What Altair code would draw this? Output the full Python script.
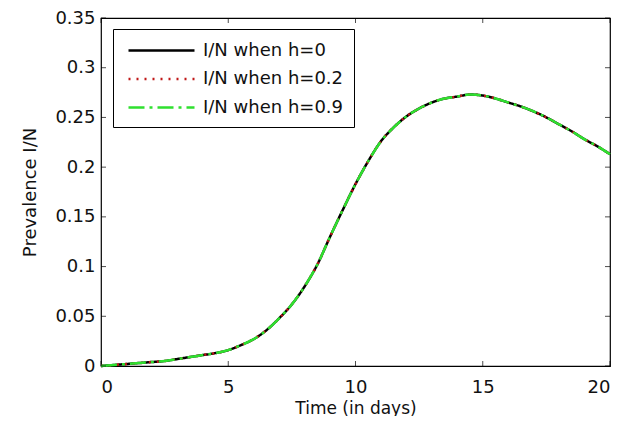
import altair as alt
import pandas as pd

# Time (days)
T = [0, 0.5, 1, 1.5, 2, 2.5, 3, 3.5, 4, 4.5, 5, 5.5, 6, 6.5, 7, 7.5, 8, 8.5, 9, 9.5,
     10, 10.5, 11, 11.5, 12, 12.5, 13, 13.5, 14, 14.5, 15, 15.5, 16, 16.5, 17, 17.5,
     18, 18.5, 19, 19.5, 20]

# Prevalence I/N (the three curves overlap in the picture)
I_H0 = [0.000, 0.001, 0.002, 0.003, 0.004, 0.005, 0.007, 0.009, 0.011, 0.013, 0.016,
        0.021, 0.027, 0.036, 0.048, 0.062, 0.080, 0.102, 0.130, 0.157, 0.183, 0.206,
        0.226, 0.240, 0.251, 0.259, 0.265, 0.269, 0.271, 0.273, 0.272, 0.269, 0.265,
        0.261, 0.256, 0.250, 0.243, 0.236, 0.228, 0.221, 0.213]
I_H02 = list(I_H0)
I_H09 = list(I_H0)

SERIES = ["I/N when h=0", "I/N when h=0.2", "I/N when h=0.9"]
COLORS = ["#000000", "#c01818", "#2fe02f"]
DASHES = [[1, 0], [2, 6], [16, 5, 3, 5]]

X_TICKS = [0, 5, 10, 15, 20]
Y_TICKS = [0, 0.05, 0.1, 0.15, 0.2, 0.25, 0.3, 0.35]

rows = []
for name, vals in zip(SERIES, [I_H0, I_H02, I_H09]):
    for t, v in zip(T, vals):
        rows.append({"t": t, "v": v, "series": name})
df = pd.DataFrame(rows)

FONT = "DejaVu Sans"
FS = 18

xscale = alt.Scale(domain=[0, 20], nice=False)
yscale = alt.Scale(domain=[0, 0.35], nice=False)

lines = alt.Chart(df).mark_line(strokeWidth=2.5, interpolate="monotone").encode(
    x=alt.X("t:Q", scale=xscale, title="Time (in days)",
            axis=alt.Axis(values=X_TICKS, format="~g", labelPadding=12,
                          titleBaseline="alphabetic", titleY=47, titleFontSize=17)),
    y=alt.Y("v:Q", scale=yscale, title="Prevalence I/N",
            axis=alt.Axis(values=Y_TICKS, format="~g", labelPadding=6, titlePadding=15)),
    color=alt.Color("series:N", scale=alt.Scale(domain=SERIES, range=COLORS), title=None,
                    legend=alt.Legend(orient="none", legendX=12, legendY=11,
                                      symbolType="M-3.3,0H3.3", symbolSize=400,
                                      symbolOffset=27, labelOffset=30,
                                      symbolStrokeWidth=2.5, rowPadding=7.5,
                                      padding=10, strokeColor="black", fillColor="white",
                                      labelFontSize=FS, labelFont=FONT, labelColor="#111",
                                      labelLimit=300)),
    strokeDash=alt.StrokeDash("series:N", scale=alt.Scale(domain=SERIES, range=DASHES),
                              title=None),
)

ydf = pd.DataFrame({"v": Y_TICKS})
xdf = pd.DataFrame({"t": X_TICKS})

tick_left = alt.Chart(ydf).mark_tick(orient="horizontal", size=5, thickness=1,
                                     color="black", xOffset=2.5).encode(
    y=alt.Y("v:Q", scale=yscale), x=alt.datum(0, scale=xscale))
tick_right = alt.Chart(ydf).mark_tick(orient="horizontal", size=5, thickness=1,
                                      color="black", xOffset=-2.5).encode(
    y=alt.Y("v:Q", scale=yscale), x=alt.datum(20, scale=xscale))
tick_bottom = alt.Chart(xdf).mark_tick(orient="vertical", size=5, thickness=1,
                                       color="black", yOffset=-2.5).encode(
    x=alt.X("t:Q", scale=xscale), y=alt.datum(0, scale=yscale))
tick_top = alt.Chart(xdf).mark_tick(orient="vertical", size=5, thickness=1,
                                    color="black", yOffset=2.5).encode(
    x=alt.X("t:Q", scale=xscale), y=alt.datum(0.35, scale=yscale))

chart = alt.layer(lines, tick_left, tick_right, tick_bottom, tick_top).properties(
    width=509, height=348,
    autosize=alt.AutoSizeParams(type="none"),
    padding={"left": 93, "top": 10, "right": 6, "bottom": 50},
    background="white",
).configure_view(
    stroke="black", strokeWidth=1.2
).configure_axis(
    ticks=False, domain=False, grid=False,
    labelFont=FONT, labelFontSize=FS, labelColor="#111",
    titleFont=FONT, titleFontSize=FS, titleFontWeight="normal", titleColor="#111",
)

chart.save("out.html", embed_options={"renderer": "svg", "actions": False})
